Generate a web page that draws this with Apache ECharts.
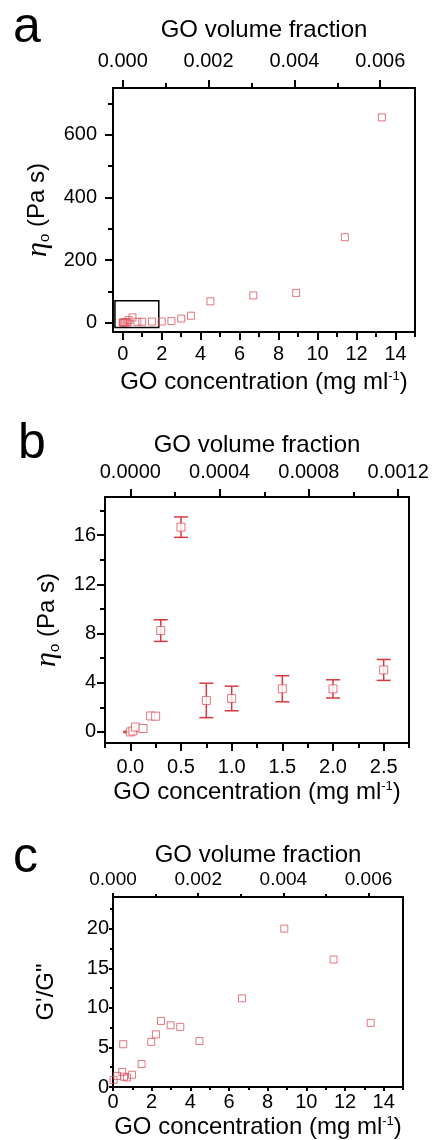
<!DOCTYPE html>
<html>
<head>
<meta charset="utf-8">
<script src="https://cdn.jsdelivr.net/npm/echarts@6/dist/echarts.min.js"></script>
<style>
  html, body { margin: 0; padding: 0; background: #fff; }
  #chart { width: 432px; height: 1140px; }
</style>
</head>
<body>
<div id="chart"></div>
<script>
// conversion GO concentration (mg/ml) -> volume fraction
const K = 0.000454

// panel a: zero-shear viscosity over the full range
const concA = [0, 0.025, 0.05, 0.125, 0.2, 0.25, 0.3, 0.5, 0.75, 1, 1.5, 2, 2.5, 3, 3.5, 4.5, 6.7, 8.9, 11.4, 13.3]
const etaA = [0, 0.1, 0.4, 0.3, 1.3, 1.3, 8.2, 16.6, 2.6, 2.7, 3.5, 3.5, 5.0, 13, 22, 68, 87, 95, 273, 656]
const insetA = [[-0.4, -16], [1.85, 70]]

// panel b: low concentration zoom with error bars
const concB = [0, 0.025, 0.05, 0.125, 0.2, 0.25, 0.3, 0.5, 0.75, 1, 1.5, 2, 2.5]
const etaB = [0, 0.08, 0.4, 0.28, 1.3, 1.28, 8.24, 16.65, 2.56, 2.72, 3.51, 3.5, 5.04]
const errB = [0.05, 0, 0, 0, 0, 0, 0.88, 0.83, 1.4, 1.0, 1.06, 0.74, 0.85]

// panel c: G'/G''
const concC = [0.03, 0.22, 0.48, 0.53, 0.57, 0.72, 0.98, 1.48, 1.98, 2.22, 2.48, 2.98, 3.48, 4.47, 6.67, 8.86, 11.41, 13.33]
const ratioC = [0.9, 1.4, 1.9, 5.4, 1.3, 1.2, 1.55, 2.9, 5.7, 6.65, 8.35, 7.8, 7.6, 5.8, 11.2, 20.0, 16.1, 8.1]

// tick values
const xTicksA = [0, 2, 4, 6, 8, 10, 12, 14]
const xMinorA = [1, 3, 5, 7, 9, 11, 13, 15]
const fTicksA = [0, 0.002, 0.004, 0.006]
const fMinorA = [0.001, 0.003, 0.005]
const yTicksA = [0, 200, 400, 600]
const yMinorA = [100, 300, 500, 700]

const xTicksB = [0, 0.5, 1, 1.5, 2, 2.5]
const xMinorB = [-0.25, 0.25, 0.75, 1.25, 1.75, 2.25, 2.75]
const fTicksB = [0, 0.0004, 0.0008, 0.0012]
const fMinorB = [0.0002, 0.0006, 0.001]
const yTicksB = [0, 4, 8, 12, 16]
const yMinorB = [2, 6, 10, 14, 18]

const xTicksC = [0, 2, 4, 6, 8, 10, 12, 14]
const xMinorC = [1, 3, 5, 7, 9, 11, 13, 15]
const fTicksC = [0, 0.002, 0.004, 0.006]
const fMinorC = [0.001, 0.003, 0.005]
const yTicksC = [0, 5, 10, 15, 20]
const yMinorC = [2.5, 7.5, 12.5, 17.5, 22.5]

const FONT = '"Liberation Sans", Arial, sans-serif'
const RED = '#e0525c'
const BAR = '#d8393f'

const xAxes = []
const yAxes = []

function makeAxis(o) {
  return {
    type: 'value',
    gridIndex: o.grid,
    position: o.pos,
    min: o.min,
    max: o.max,
    name: o.name || '',
    nameLocation: 'middle',
    nameGap: o.nameGap || 0,
    nameTextStyle: {
      color: '#000',
      fontSize: 24,
      fontFamily: FONT,
      rich: {
        eta: { fontSize: 30, fontStyle: 'italic', fontFamily: '"Liberation Serif", serif', color: '#000' },
        sub: { fontSize: 15, verticalAlign: 'bottom', fontFamily: FONT, color: '#000' },
        sup: { fontSize: 13, verticalAlign: 'top', fontFamily: FONT, color: '#000' }
      }
    },
    axisLine: { show: !!o.line, onZero: false, lineStyle: { color: '#000', width: 2 } },
    axisTick: {
      show: !!o.ticks,
      customValues: o.ticks,
      length: o.len || 0,
      lineStyle: { color: '#000', width: 2 }
    },
    axisLabel: {
      show: !!o.labels,
      customValues: o.labels,
      margin: o.margin || 8,
      color: '#000',
      fontSize: o.fontSize || 20,
      fontFamily: FONT,
      formatter: o.fmt
    },
    splitLine: { show: false }
  }
}

// one boxed panel: bottom conc axis, top volume fraction axis, left value axis, right frame
function addPanel(p) {
  const g = p.grid
  const xi = xAxes.length
  const yi = yAxes.length
  xAxes.push(makeAxis({
    grid: g, pos: 'bottom', min: p.xMin, max: p.xMax, line: true,
    ticks: p.xTicks, labels: p.xTicks, len: p.len, margin: p.xMargin, fmt: p.xFmt,
    name: 'GO concentration (mg ml{sup|-1})', nameGap: p.xNameGap
  }))
  xAxes.push(makeAxis({ grid: g, pos: 'bottom', min: p.xMin, max: p.xMax, ticks: p.xMinor, len: p.minorLen }))
  xAxes.push(makeAxis({
    grid: g, pos: 'top', min: p.xMin * K, max: p.xMax * K, line: true,
    ticks: p.fTicks, labels: p.fTicks, len: p.len, margin: p.fMargin, fmt: p.fFmt,
    fontSize: p.fSize, name: 'GO volume fraction', nameGap: p.fNameGap
  }))
  xAxes.push(makeAxis({ grid: g, pos: 'top', min: p.xMin * K, max: p.xMax * K, ticks: p.fMinor, len: p.minorLen }))
  yAxes.push(makeAxis({
    grid: g, pos: 'left', min: p.yMin, max: p.yMax, line: true,
    ticks: p.yTicks, labels: p.yTicks, len: p.len, margin: p.yMargin,
    name: p.yName, nameGap: p.yNameGap
  }))
  yAxes.push(makeAxis({ grid: g, pos: 'left', min: p.yMin, max: p.yMax, ticks: p.yMinor, len: p.minorLen }))
  yAxes.push(makeAxis({ grid: g, pos: 'right', min: p.yMin, max: p.yMax, line: true }))
  return { x: xi, y: yi }
}

const axA = addPanel({
  grid: 0, xMin: -0.5, xMax: 15, xTicks: xTicksA, xMinor: xMinorA, xMargin: 12, xFmt: v => String(v), xNameGap: 38,
  fTicks: fTicksA, fMinor: fMinorA, fMargin: 17, fFmt: v => v.toFixed(3), fNameGap: 46,
  yMin: -30, yMax: 750, yTicks: yTicksA, yMinor: yMinorA, yMargin: 16,
  yName: '{eta|η}{sub|o} (Pa s)', yNameGap: 60, len: 8, minorLen: 5
})
const axB = addPanel({
  grid: 1, xMin: -0.25, xMax: 2.75, xTicks: xTicksB, xMinor: xMinorB, xMargin: 14, xFmt: v => v.toFixed(1), xNameGap: 37,
  fTicks: fTicksB, fMinor: fMinorB, fMargin: 15, fFmt: v => v.toFixed(4), fNameGap: 40,
  yMin: -0.9, yMax: 19.1, yTicks: yTicksB, yMinor: yMinorB, yMargin: 9,
  yName: '{eta|η}{sub|o} (Pa s)', yNameGap: 43, len: 8, minorLen: 5
})
const axC = addPanel({
  grid: 2, xMin: 0, xMax: 15, xTicks: xTicksC, xMinor: xMinorC, xMargin: 5, xFmt: v => String(v), xNameGap: 28,
  fTicks: fTicksC, fMinor: fMinorC, fMargin: 8, fFmt: v => v.toFixed(3), fSize: 19, fNameGap: 30,
  yMin: 0, yMax: 24, yTicks: yTicksC, yMinor: yMinorC, yMargin: 4,
  yName: 'G\'/G"', yNameGap: 55, len: 4, minorLen: 3
})

function pairs(xs, ys) {
  return xs.map((x, i) => [x, ys[i]])
}

const chart = echarts.init(document.getElementById('chart'), null, { renderer: 'canvas' })

chart.setOption({
  animation: false,
  backgroundColor: '#fff',
  grid: [
    { left: 113, top: 88, width: 302, height: 244 },
    { left: 105, top: 497, width: 304, height: 246 },
    { left: 113, top: 897, width: 290, height: 192 }
  ],
  xAxis: xAxes,
  yAxis: yAxes,
  graphic: [
    { type: 'text', left: 13, top: 3, style: { text: 'a', font: '50px ' + FONT, fill: '#000' } },
    { type: 'text', left: 18, top: 419, style: { text: 'b', font: '50px ' + FONT, fill: '#000' } },
    { type: 'text', left: 13, top: 833, style: { text: 'c', font: '50px ' + FONT, fill: '#000' } }
  ],
  series: [
    {
      type: 'scatter',
      xAxisIndex: axA.x,
      yAxisIndex: axA.y,
      data: pairs(concA, etaA),
      symbol: 'rect',
      symbolSize: 7,
      itemStyle: { color: 'rgba(255,255,255,0)', borderColor: RED, borderWidth: 1 },
      markArea: {
        silent: true,
        itemStyle: { color: 'rgba(0,0,0,0)', borderColor: '#000', borderWidth: 1.5 },
        data: [[{ coord: insetA[0] }, { coord: insetA[1] }]]
      }
    },
    {
      // error bars
      type: 'custom',
      xAxisIndex: axB.x,
      yAxisIndex: axB.y,
      data: concB.map((x, i) => [x, etaB[i] - errB[i], etaB[i] + errB[i]]),
      encode: { x: 0, y: [1, 2] },
      z: 2,
      renderItem: function(params, api) {
        const x = api.value(0)
        const lo = api.value(1)
        const hi = api.value(2)
        if (hi - lo <= 0) {
          return null
        }
        const top = api.coord([x, hi])
        const bot = api.coord([x, lo])
        const w = 7
        const style = { stroke: BAR, lineWidth: 1.5 }
        return {
          type: 'group',
          children: [
            { type: 'line', shape: { x1: top[0], y1: top[1], x2: bot[0], y2: bot[1] }, style: style },
            { type: 'line', shape: { x1: top[0] - w, y1: top[1], x2: top[0] + w, y2: top[1] }, style: style },
            { type: 'line', shape: { x1: bot[0] - w, y1: bot[1], x2: bot[0] + w, y2: bot[1] }, style: style }
          ]
        }
      }
    },
    {
      type: 'scatter',
      xAxisIndex: axB.x,
      yAxisIndex: axB.y,
      data: pairs(concB, etaB),
      symbol: 'rect',
      symbolSize: 8,
      z: 3,
      itemStyle: { color: '#fff', borderColor: RED, borderWidth: 1 }
    },
    {
      type: 'scatter',
      xAxisIndex: axC.x,
      yAxisIndex: axC.y,
      data: pairs(concC, ratioC),
      symbol: 'rect',
      symbolSize: 7,
      itemStyle: { color: 'rgba(255,255,255,0)', borderColor: RED, borderWidth: 1 }
    }
  ]
})
</script>
</body>
</html>
